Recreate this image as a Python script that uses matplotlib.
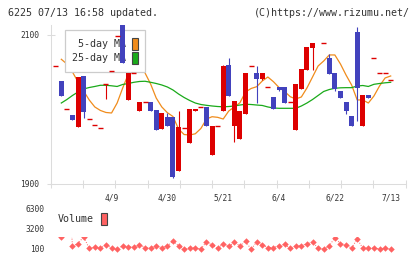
import numpy as np
import matplotlib.pyplot as plt
from matplotlib.patches import Patch
from matplotlib.transforms import Bbox, TransformedBbox

plt.rcParams['font.family'] = ['DejaVu Sans Mono']

RED = '#dd0000'
BLUE = '#4242bd'
ORANGE = '#f08c1c'
GREEN = '#1aaa1a'
VOLC = '#ff6262'
GRID = '#dcdcdc'
TXT = '#333333'

# tick labels (candle index -> date)
label_pos = [10, 20, 30, 40, 50, 60]
date_labels = ['4/9', '4/30', '5/21', '6/4', '6/22', '7/13']

nan = np.nan
open_ = [2058, 2038, 2000, 1993, 1976, 2045, 1987, 1979, 1975, 2034,
         2051, 2099, 2125, 2013, 2049, 1998, 2010, 2010, 1999, 1974,
         1990, 1990, 1918, 1975, 1955, 1998, 2003, 2003, 1939, 1978,
         1998, 2060, 1978, 1961, 1994, 2059, 2049, 2041, 2030, 2017,
         2030, 2030, 2010, 1972, 2028, 2053, 2083, nan, 2089, 2069,
         2049, 2025, 2010, 1991, 2104, 1978, 2019, 2069, 2049, 2049,
         2039]
high = [2058, 2038, 2000, 1993, 2044, 2045, 1987, 1979, 1975, 2034,
        2051, 2099, 2125, 2049, 2049, 2010, 2010, 2010, 1999, 1995,
        1995, 1990, 1998, 1975, 2001, 2001, 2003, 2003, 1978, 1978,
        2060, 2069, 2011, 1998, 2049, 2059, 2059, 2049, 2030, 2017,
        2030, 2030, 2010, 2034, 2054, 2084, 2089, nan, 2089, 2075,
        2049, 2025, 2010, 1991, 2111, 2019, 2019, 2069, 2049, 2049,
        2039]
low = [2058, 2018, 2000, 1986, 1976, 1989, 1987, 1979, 1975, 2014,
       2051, 2099, 2063, 2013, 2049, 1998, 2010, 1998, 1973, 1974,
       1978, 1908, 1918, 1975, 1955, 1998, 2003, 1978, 1939, 1978,
       1998, 2018, 1957, 1961, 1994, 2059, 2009, 2039, 2030, 2000,
       2025, 2009, 2010, 1972, 2027, 2053, 2053, nan, 2089, 2048,
       2025, 2016, 1994, 1978, 1985, 1978, 2016, 2069, 2049, 2049,
       2039]
close = [2058, 2018, 2000, 1986, 2044, 1997, 1987, 1979, 1975, 2034,
         2051, 2099, 2063, 2049, 2049, 2010, 2010, 1998, 1973, 1995,
         1978, 1910, 1976, 1975, 2001, 2001, 2003, 1978, 1978, 1978,
         2059, 2018, 2011, 1998, 2049, 2059, 2041, 2049, 2030, 2000,
         2026, 2009, 2010, 2034, 2054, 2084, 2089, nan, 2089, 2048,
         2028, 2016, 1998, 1978, 2029, 2019, 2016, 2069, 2049, 2049,
         2039]

# moving averages and volume start from the second candle
ma5 = [2067.4, 2061.1, 2050.3, 2036.9, 2024.8, 2012.8, 2003.4, 1998.7, 1996.0, 1995.3,
       2008.7, 2028.9, 2047.6, 2058.4, 2061.1, 2049.0, 2034.2, 2015.4, 2003.4, 1995.7,
       1990.6, 1973.8, 1966.4, 1965.8, 1967.4, 1974.5, 1987.2, 1990.3, 1989.5, 1987.2,
       1998.0, 2003.4, 2009.1, 2023.5, 2028.2, 2030.6, 2038.3, 2043.6, 2037.3, 2029.5,
       2024.2, 2017.2, 2014.1, 2016.8, 2028.9, 2043.6, 2058.4, 2065.1, 2073.2, 2073.2,
       2061.1, 2046.3, 2032.9, 2012.8, 2012.8, 2008.7, 2018.1, 2031.5, 2042.3, 2045.0]
ma25 = [2008.7, 2013.4, 2018.8, 2023.5, 2027.5, 2029.5, 2030.9, 2032.5, 2032.5, 2031.8,
        2030.9, 2033.6, 2034.9, 2036.5, 2037.6, 2037.9, 2036.5, 2034.9, 2032.9, 2030.2,
        2026.2, 2020.8, 2016.1, 2012.1, 2008.7, 2006.7, 2005.6, 2004.7, 2004.0, 2003.6,
        2004.0, 2004.7, 2006.0, 2007.0, 2006.7, 2006.0, 2005.4, 2003.4, 2002.0, 2001.6,
        2001.6, 2001.6, 2001.6, 2004.7, 2008.7, 2013.4, 2018.8, 2024.2, 2026.8, 2028.5,
        2029.1, 2029.3, 2029.3, 2031.5, 2032.2, 2030.9, 2033.8, 2034.9, 2035.8, 2036.5]
volume = [2000, 14000, 540, 950, 2000, 180, 380, 230, 750, 230,
          50, 600, 440, 440, 750, 290, 290, 600, 290, 600,
          1310, 600, 50, 290, 290, 90, 1220, 700, 180, 950,
          540, 1110, 600, 1310, 50, 1220, 750, 330, 330, 600,
          800, 230, 600, 600, 950, 1110, 290, 50, 600, 1840,
          950, 750, 230, 1680, 230, 230, 230, 130, 230, 130]

W, H = 420, 259
fig = plt.figure(figsize=(W / 100, H / 100), dpi=100)
fig.patch.set_facecolor('white')

xlo, xhi = -0.9, 62.69
ax = fig.add_axes([50.7 / W, 1 - 184 / H, 355 / W, 159 / H])

x = np.arange(len(open_))
o = np.array(open_, float)
c = np.array(close, float)
h = np.array(high, float)
l = np.array(low, float)
valid = ~np.isnan(o)
colors = np.where(c >= o, RED, BLUE)

ax.vlines(x[valid], l[valid], h[valid], colors=colors[valid], lw=0.8, zorder=4)
body = valid & (o != c)
ax.bar(x[body], np.abs(c - o)[body], bottom=np.minimum(o, c)[body], width=0.9,
       color=colors[body], lw=0, zorder=5)
doji = valid & (o == c)
ax.hlines(o[doji], x[doji] - 0.45, x[doji] + 0.45, colors=RED, lw=1.0, zorder=5)

ax.plot(x[1:], ma5, color=ORANGE, lw=0.9, zorder=2)
ax.plot(x[1:], ma25, color=GREEN, lw=0.9, zorder=2)

ax.set_xlim(xlo, xhi)
ax.set_ylim(1900, 2113.4)
for s in ['top', 'right']:
    ax.spines[s].set_visible(False)
for s in ['left', 'bottom']:
    ax.spines[s].set_color(GRID)
    ax.spines[s].set_linewidth(0.75)

ax.set_yticks([1900, 2100])
ax.set_yticklabels(['1900', '2100'])
ax.tick_params(axis='y', direction='inout', length=5.8, width=0.75, color=GRID,
               labelsize=5.7, labelcolor=TXT, pad=5.5)
ax.set_xticks(label_pos)
ax.set_xticklabels(date_labels)
ax.set_xticks(np.linspace(xlo, xhi, 12), minor=True)
ax.tick_params(axis='x', which='major', length=0, labelsize=5.7, labelcolor=TXT, pad=6.5)
ax.tick_params(axis='x', which='minor', direction='inout', length=5.8, width=0.75, color=GRID)

leg = ax.legend(handles=[Patch(facecolor=ORANGE, edgecolor='#444444', lw=0.8),
                         Patch(facecolor=GREEN, edgecolor='#444444', lw=0.8)],
                labels=['5-day MA', '25-day MA'], loc='upper left',
                bbox_to_anchor=(65 / W, 1 - 30 / H), bbox_transform=fig.transFigure,
                markerfirst=False, fontsize=7.2, handlelength=0.6, handleheight=1.6,
                handletextpad=0.5, labelspacing=0.12, borderpad=0.75, borderaxespad=0,
                fancybox=False, framealpha=1, edgecolor='#cccccc')
leg.get_frame().set_linewidth(0.9)
for t in leg.get_texts():
    t.set_color(TXT)
leg.set_zorder(3)

# volume panel
vlo, vhi = -985, 6920
axv = fig.add_axes([50.7 / W, 1 - 256 / H, 355 / W, 51 / H])
line, = axv.plot(x[1:], volume, color=VOLC, lw=0.7, ls=':', marker='D', ms=3.3, mew=0)
axv.set_xlim(xlo, xhi)
axv.set_ylim(vlo, vhi)
line.set_clip_box(TransformedBbox(Bbox([[xlo, vlo], [xhi, 1960]]), axv.transData))
for s in axv.spines.values():
    s.set_visible(False)
axv.set_xticks([])
axv.set_yticks([100, 3200, 6300])
axv.set_yticklabels(['100', '3200', '6300'])
axv.tick_params(axis='y', length=0, labelsize=5.7, labelcolor=TXT, pad=4.8)
axv.patch.set_alpha(0)

vleg = axv.legend(handles=[Patch(facecolor=VOLC, edgecolor='#444444', lw=0.8)],
                  labels=['Volume'], loc='upper left',
                  bbox_to_anchor=(58 / W, 1 - 213 / H), bbox_transform=fig.transFigure,
                  markerfirst=False, frameon=False, fontsize=7.2, handlelength=0.56,
                  handleheight=1.5, handletextpad=0.7, borderpad=0, borderaxespad=0)
for t in vleg.get_texts():
    t.set_color(TXT)

fig.text(8 / W, 1 - 12.5 / H, '6225 07/13 16:58 updated.', fontsize=7.2,
         ha='left', va='center', color=TXT)
fig.text(410 / W, 1 - 12.5 / H, '(C)https://www.rizumu.net/', fontsize=7.2,
         ha='right', va='center', color=TXT)

fig.savefig('out.png', dpi=100)
